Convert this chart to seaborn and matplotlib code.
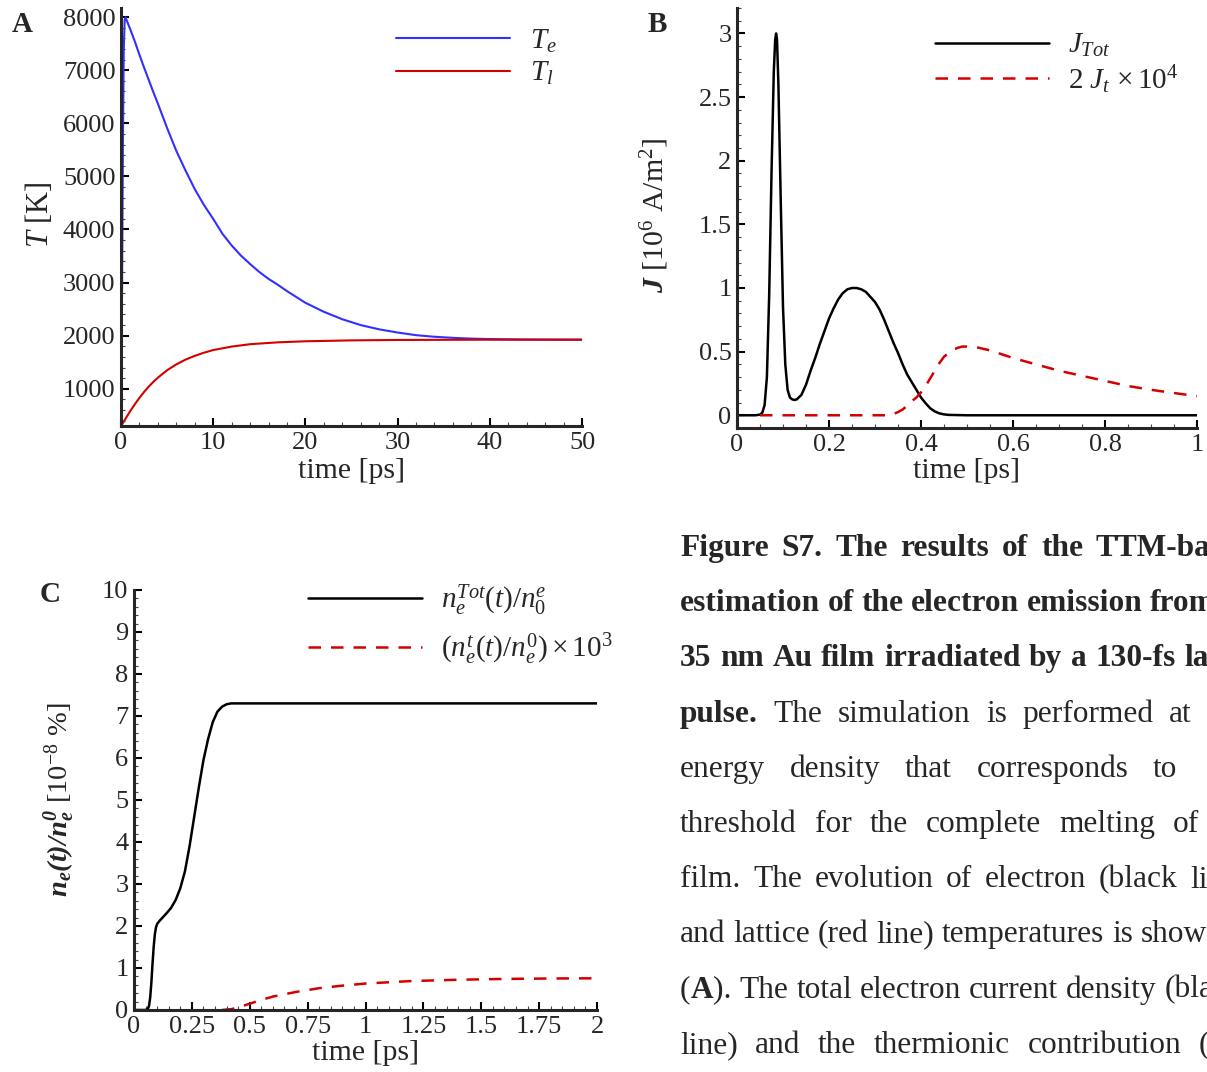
import numpy as np
import pandas as pd
import matplotlib
matplotlib.use("Agg")
import matplotlib.pyplot as plt
import seaborn as sns
from matplotlib.ticker import MultipleLocator, FuncFormatter

# ---------------- data ----------------
# Panel A: electron / lattice temperature
tA_e = [0, 0.1, 0.2, 0.3, 0.4, 0.5, 1, 1.5, 2, 2.5, 3, 3.5, 4, 5, 6, 7, 8, 9, 10, 11,
        12, 13, 14, 15, 16, 17, 18, 19, 20, 22, 24, 26, 28, 30, 32, 34, 36, 38, 40,
        43, 46, 50]
Te = [300, 2500, 5500, 7400, 7950, 7990, 7770, 7540, 7290, 7050, 6820, 6590, 6370,
      5910, 5480, 5110, 4760, 4460, 4200, 3920, 3700, 3510, 3350, 3200, 3070, 2960,
      2840, 2730, 2620, 2450, 2310, 2200, 2120, 2060, 2010, 1980, 1960, 1945, 1937,
      1930, 1927, 1925]
tA_l = [0, 0.5, 1, 1.5, 2, 2.5, 3, 3.5, 4, 5, 6, 7, 8, 9, 10, 12, 14, 17, 20, 25, 30,
        40, 50]
Tl = [300, 440, 580, 710, 830, 940, 1040, 1130, 1210, 1350, 1460, 1550, 1620, 1680,
      1730, 1795, 1840, 1875, 1895, 1912, 1920, 1925, 1925]

# Panel B: current densities
tB_tot = [0, 0.04, 0.05, 0.055, 0.06, 0.065, 0.07, 0.075, 0.08, 0.083, 0.085, 0.087,
          0.09, 0.095, 0.1, 0.105, 0.11, 0.115, 0.12, 0.125, 0.13, 0.14, 0.15, 0.16,
          0.17, 0.18, 0.19, 0.2, 0.21, 0.22, 0.23, 0.24, 0.25, 0.26, 0.27, 0.28, 0.29,
          0.3, 0.31, 0.32, 0.33, 0.34, 0.35, 0.36, 0.37, 0.38, 0.39, 0.4, 0.41, 0.42,
          0.43, 0.44, 0.45, 0.46, 0.5, 0.6, 0.8, 1.0]
J_tot = [0, 0, 0.005, 0.02, 0.08, 0.3, 0.95, 1.9, 2.7, 2.95, 3.0, 2.95, 2.6, 1.7,
         0.85, 0.4, 0.2, 0.14, 0.125, 0.12, 0.125, 0.16, 0.24, 0.35, 0.45, 0.56, 0.66,
         0.76, 0.84, 0.91, 0.96, 0.99, 1.0, 1.0, 0.99, 0.97, 0.93, 0.89, 0.83, 0.75,
         0.66, 0.57, 0.49, 0.40, 0.32, 0.26, 0.20, 0.14, 0.095, 0.055, 0.03, 0.015,
         0.007, 0.003, 0, 0, 0, 0]
tB_t = [0.05, 0.1, 0.2, 0.3, 0.33, 0.34, 0.35, 0.36, 0.37, 0.38, 0.39, 0.4, 0.41,
        0.42, 0.43, 0.44, 0.45, 0.46, 0.47, 0.48, 0.49, 0.5, 0.52, 0.55, 0.6, 0.65,
        0.7, 0.75, 0.8, 0.85, 0.9, 0.95, 1.0]
J_t = [0, 0, 0, 0, 0.0, 0.01, 0.025, 0.045, 0.075, 0.11, 0.14, 0.18, 0.23, 0.29,
       0.35, 0.41, 0.46, 0.49, 0.515, 0.53, 0.54, 0.54, 0.535, 0.51, 0.45, 0.40,
       0.35, 0.31, 0.27, 0.23, 0.20, 0.175, 0.15]

# Panel C: emitted electron fraction
tC_tot = [0, 0.05, 0.06, 0.065, 0.07, 0.075, 0.08, 0.085, 0.09, 0.095, 0.1, 0.11,
          0.12, 0.14, 0.16, 0.18, 0.2, 0.22, 0.24, 0.26, 0.28, 0.3, 0.32, 0.34, 0.36,
          0.38, 0.4, 0.42, 0.45, 0.5, 1.0, 2.0]
n_tot = [0, 0, 0.03, 0.1, 0.3, 0.65, 1.1, 1.5, 1.8, 1.97, 2.05, 2.12, 2.18, 2.3,
         2.43, 2.62, 2.9, 3.3, 3.9, 4.6, 5.3, 5.95, 6.45, 6.85, 7.1, 7.22, 7.28, 7.3,
         7.3, 7.3, 7.3, 7.3]
tC_t = [0.38, 0.42, 0.45, 0.5, 0.55, 0.6, 0.7, 0.8, 0.9, 1.0, 1.2, 1.4, 1.6, 1.8, 2.0]
n_t = [0, 0.02, 0.06, 0.15, 0.24, 0.32, 0.43, 0.52, 0.58, 0.63, 0.69, 0.72, 0.74,
       0.75, 0.755]

legA = [r"$T_e$", r"$T_l$"]
legB = [r"$J_{Tot}$", r"$2\ J_t\,\times10^4$"]
legC = [r"$n_e^{Tot}(t)/n_0^e$", r"$(n_e^t(t)/n_e^0)\times10^3$"]

caption = [
    ("**Figure S7. The results of the TTM-based**", 1096),
    ("**estimation of the electron emission from**", 1150),
    ("**35 nm Au film irradiated by a 130-fs laser**", 1184),
    ("**pulse.** The simulation is performed at", 1169),
    ("energy density that corresponds to", 1153),
    ("threshold for the complete melting of", 1173),
    ("film. The evolution of electron (black line)", 1190),
    ("and lattice (red line) temperatures is shown", None),
    ("(**A**). The total electron current density (black", None),
    ("line) and the thermionic contribution (red", 1199),
]

# ---------------- style ----------------
sns.set_style("ticks")
plt.rcParams["font.family"] = ["Liberation Serif", "DejaVu Serif"]
plt.rcParams["mathtext.fontset"] = "custom"
plt.rcParams["mathtext.rm"] = "Liberation Serif"
plt.rcParams["mathtext.it"] = "Liberation Serif:italic"
plt.rcParams["mathtext.bf"] = "Liberation Serif:bold:italic"

W, H = 1207, 1072
fig = plt.figure(figsize=(W / 100, H / 100), dpi=100)
fig.patch.set_facecolor("white")


def ax_px(l, t, r, b):
    return fig.add_axes([l / W, 1 - b / H, (r - l) / W, (b - t) / H])


RED = "#d40000"
BLUE = "#3030ff"
TICK_FS = 19
XLAB_FS = 21.5
YLAB_FS = 21.5
LEG_FS = 21


def style(ax, xmaj, xmin, ymaj, ymin):
    sns.despine(ax=ax)
    for s in ["left", "bottom"]:
        ax.spines[s].set_linewidth(2.2)
    ax.xaxis.set_major_locator(MultipleLocator(xmaj))
    ax.xaxis.set_minor_locator(MultipleLocator(xmin))
    ax.yaxis.set_major_locator(MultipleLocator(ymaj))
    ax.yaxis.set_minor_locator(MultipleLocator(ymin))
    fmt = FuncFormatter(lambda v, p: "%g" % round(v, 6))
    ax.xaxis.set_major_formatter(fmt)
    ax.yaxis.set_major_formatter(fmt)
    ax.tick_params(which="major", direction="in", length=6, width=1.5,
                   labelsize=TICK_FS, pad=4, color="black")
    ax.tick_params(which="minor", direction="in", length=3.2, width=0.8,
                   color="#444444")
    ax.set_facecolor("white")


# ---------------- Panel A ----------------
axA = ax_px(121, 8, 582, 426)
sns.lineplot(x=tA_e, y=Te, ax=axA, color=BLUE, lw=1.5, label=legA[0])
sns.lineplot(x=tA_l, y=Tl, ax=axA, color=RED, lw=1.5, label=legA[1])
axA.set_xlim(0, 50)
axA.set_ylim(300, 8170)
style(axA, 10, 2, 1000, 200)
axA.set_xlabel("time [ps]", fontsize=XLAB_FS)
axA.set_ylabel(r"$T$ [K]", fontsize=YLAB_FS + 0.5)
axA.xaxis.set_label_coords(0.5, -0.108)
axA.yaxis.set_label_coords(-0.176, 0.505)
axA.legend(loc="center left", bbox_to_anchor=(0.597, 0.882), frameon=False,
           fontsize=LEG_FS, handlelength=3.9, handletextpad=0.7, borderpad=0,
           borderaxespad=0, labelspacing=0.18)

# ---------------- Panel B ----------------
axB = ax_px(737, 8, 1197, 428)
sns.lineplot(x=tB_tot, y=J_tot, ax=axB, color="black", lw=1.8, label=legB[0])
sns.lineplot(x=tB_t, y=J_t, ax=axB, color=RED, lw=1.8, linestyle=(0, (5, 4)),
             label=legB[1])
axB.set_xlim(0, 1)
axB.set_ylim(-0.1, 3.2)
style(axB, 0.2, 0.05, 0.5, 0.1)
axB.set_xlabel("time [ps]", fontsize=XLAB_FS)
axB.set_ylabel(r"$\mathbf{J}$ [10$^6$ A/m$^2$]", fontsize=YLAB_FS)
axB.xaxis.set_label_coords(0.5, -0.102)
axB.yaxis.set_label_coords(-0.178, 0.507)
axB.legend(loc="center left", bbox_to_anchor=(0.43, 0.867), frameon=False,
           fontsize=LEG_FS, handlelength=3.9, handletextpad=0.65, borderpad=0,
           borderaxespad=0, labelspacing=0.12)

# ---------------- Panel C ----------------
axC = ax_px(134, 590, 597, 1010)
sns.lineplot(x=tC_tot, y=n_tot, ax=axC, color="black", lw=1.8, label=legC[0])
sns.lineplot(x=tC_t, y=n_t, ax=axC, color=RED, lw=1.8, linestyle=(0, (5, 4)),
             label=legC[1])
axC.set_xlim(0, 2)
axC.set_ylim(0, 10)
style(axC, 0.25, 0.05, 1, 0.2)
axC.set_xlabel("time [ps]", fontsize=XLAB_FS)
axC.set_ylabel(r"$\mathbf{n_e(t)/n_e^0}$ [10$^{-8}$ %]", fontsize=YLAB_FS - 1)
axC.xaxis.set_label_coords(0.5, -0.102)
axC.yaxis.set_label_coords(-0.16, 0.5)
axC.legend(loc="center left", bbox_to_anchor=(0.376, 0.917), frameon=False,
           fontsize=LEG_FS, handlelength=3.9, handletextpad=0.65, borderpad=0,
           borderaxespad=0, labelspacing=0.45)

for ax in (axA, axB, axC):
    ax.xaxis.label.set_va("center")
    ax.yaxis.label.set_va("center")

# panel letters
for letter, (px, py) in zip("ABC", [(22, 24), (657, 24), (50, 595)]):
    fig.text(px / W, 1 - py / H, letter, fontsize=21, fontweight="bold",
             ha="center", va="center")

# ---------------- caption (clipped by the page edge) ----------------
renderer = fig.canvas.get_renderer()
CAP_FS = 22.6


def seg_width(text, weight):
    t = fig.text(0, 0, text, fontsize=CAP_FS, fontweight=weight)
    w = t.get_window_extent(renderer).width
    t.remove()
    return w


def draw_caption_line(line, x_last, y_base, x0=680):
    raw = line.split(" ")
    words = []
    bold = False
    for w in raw:
        segs = []
        parts = w.split("**")
        for i, p in enumerate(parts):
            if i > 0:
                bold = not bold
            if p:
                segs.append((p, "bold" if bold else "normal"))
        words.append(segs)
    widths = [sum(seg_width(s, wt) for s, wt in segs) for segs in words]
    if x_last is None:
        gap = seg_width("a a", "normal") - 2 * seg_width("a", "normal")
    else:
        gap = (x_last - x0 - sum(widths[:-1])) / (len(words) - 1)
    x = x0
    for segs, w in zip(words, widths):
        xx = x
        for s, wt in segs:
            fig.text(xx / W, 1 - y_base / H, s, fontsize=CAP_FS, fontweight=wt,
                     ha="left", va="baseline")
            xx += seg_width(s, wt)
        x += w + gap


for i, (line, xl) in enumerate(caption):
    draw_caption_line(line, xl, 556 + 55.2 * i)

fig.savefig("out.png", dpi=100, facecolor="white")
